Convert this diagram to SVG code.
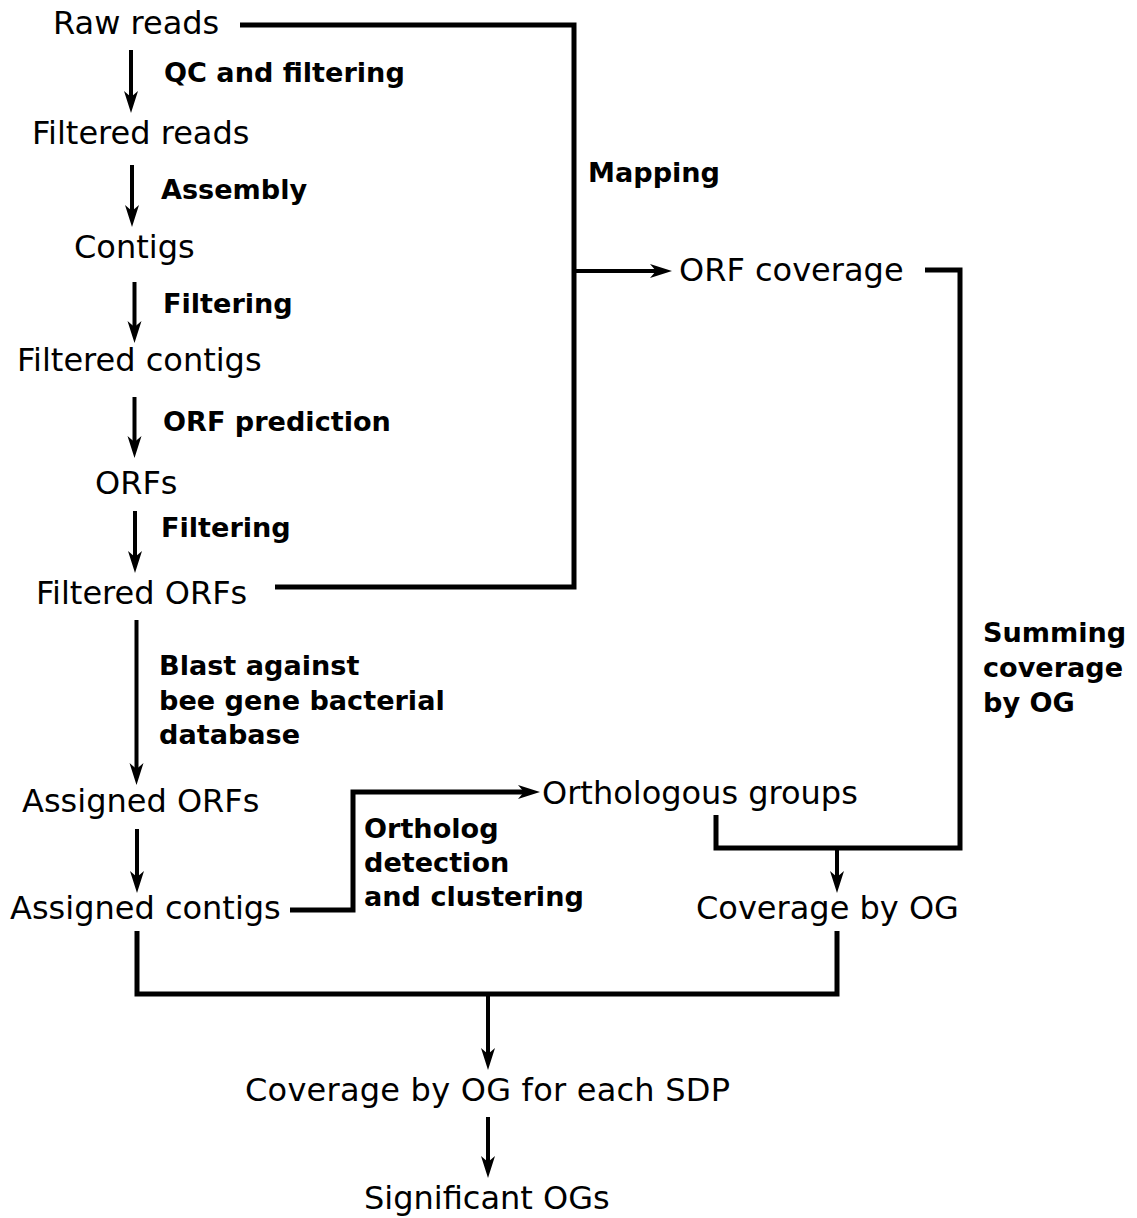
<svg xmlns="http://www.w3.org/2000/svg" width="1137" height="1218" viewBox="0 0 1137 1218">
<style>
.n{font-family:"DejaVu Sans","Verdana",sans-serif;font-size:32px;fill:#000}
.l{font-family:"DejaVu Sans","Verdana",sans-serif;font-size:27.1px;font-weight:bold;fill:#000}
.c{fill:none;stroke:#000;stroke-width:5;stroke-linejoin:miter;stroke-linecap:butt}
.a{fill:none;stroke:#000;stroke-width:4;marker-end:url(#ah)}
</style>
<defs>
<marker id="ah" markerUnits="userSpaceOnUse" viewBox="0 -8 24 16" markerWidth="24" markerHeight="16" refX="6" refY="0" orient="auto">
<path d="M22,0 L0,-7 L6,0 L0,7 Z" fill="#000"/>
</marker>
</defs>
<rect width="1137" height="1218" fill="#fff"/>
<g id="connectors">
<path class="c" d="M240,25 H574 V587 H275"/>
<path class="a" d="M574,271 H656"/>
<path class="c" d="M925,270 H960 V848 H716 V815"/>
<path class="a" d="M837,848 V877"/>
<path class="c" d="M290,910 H353 V792 H525"/>
<path class="a" d="M523,792 H524"/>
<path class="c" d="M137,931 V994 H837 V931"/>
<path class="a" d="M488,994 V1054"/>
<path class="a" d="M488,1117 V1162"/>
<path class="a" d="M131,50 V97"/>
<path class="a" d="M132,165 V211"/>
<path class="a" d="M134.5,282 V327"/>
<path class="a" d="M134.5,397 V442"/>
<path class="a" d="M135,511 V557"/>
<path class="a" d="M136.5,620 V769"/>
<path class="a" d="M137,829 V877"/>
</g>
<g id="labels">
<text class="l" x="164" y="82">QC and filtering</text>
<text class="l" x="161" y="199">Assembly</text>
<text class="l" x="163" y="313">Filtering</text>
<text class="l" x="163" y="431">ORF prediction</text>
<text class="l" x="161" y="537">Filtering</text>
<text class="l" x="159" y="675">Blast against</text>
<text class="l" x="159" y="709.5">bee gene bacterial</text>
<text class="l" x="159" y="744">database</text>
<text class="l" x="588" y="182">Mapping</text>
<text class="l" x="983" y="642">Summing</text>
<text class="l" x="983" y="677">coverage</text>
<text class="l" x="983" y="712">by OG</text>
<text class="l" x="364" y="838">Ortholog</text>
<text class="l" x="364" y="872">detection</text>
<text class="l" x="364" y="906">and clustering</text>
</g>
<g id="raw-reads"><text class="n" x="53" y="34">Raw reads</text></g>
<g id="filtered-reads"><text class="n" x="32" y="144">Filtered reads</text></g>
<g id="contigs"><text class="n" x="74" y="258">Contigs</text></g>
<g id="filtered-contigs"><text class="n" x="17" y="371">Filtered contigs</text></g>
<g id="orfs"><text class="n" x="95" y="494">ORFs</text></g>
<g id="filtered-orfs"><text class="n" x="36" y="604">Filtered ORFs</text></g>
<g id="assigned-orfs"><text class="n" x="22" y="812">Assigned ORFs</text></g>
<g id="assigned-contigs"><text class="n" x="10" y="919">Assigned contigs</text></g>
<g id="orf-coverage"><text class="n" x="679" y="281">ORF coverage</text></g>
<g id="orthologous-groups"><text class="n" x="542" y="804">Orthologous groups</text></g>
<g id="coverage-by-og"><text class="n" x="696" y="919">Coverage by OG</text></g>
<g id="coverage-sdp"><text class="n" x="245" y="1101" textLength="485">Coverage by OG for each SDP</text></g>
<g id="significant-ogs"><text class="n" x="364" y="1209">Significant OGs</text></g>
</svg>
